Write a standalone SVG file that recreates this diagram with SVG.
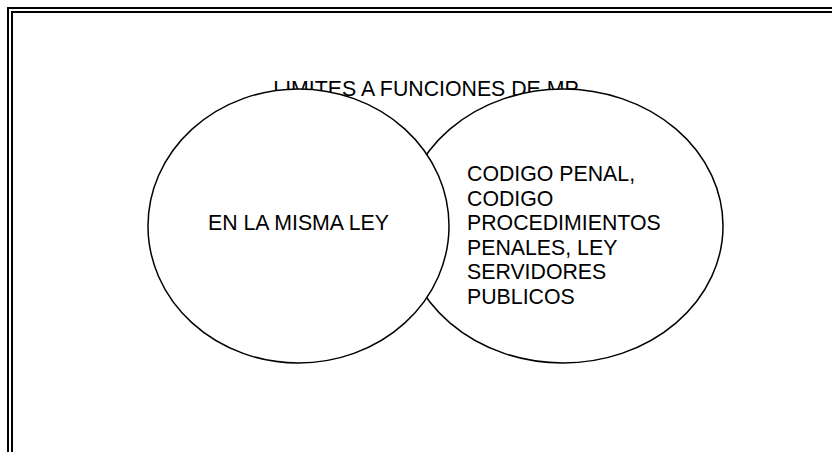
<svg xmlns="http://www.w3.org/2000/svg" width="832" height="452" viewBox="0 0 832 452">
<style>
.t{font-family:"Liberation Sans",Arial,sans-serif;font-size:21.3px;fill:#000}
.e{fill:#fff;stroke:#000;stroke-width:1.5}
.b{fill:none;stroke:#000;stroke-width:2}
</style>
<rect width="832" height="452" fill="#fff"/>
<g id="border">
<path class="b" d="M8 452V8H832"/>
<path class="b" d="M12 452V12H832"/>
</g>
<g id="title">
<text class="t" x="426" y="96" text-anchor="middle">LIMITES A FUNCIONES DE MP</text>
</g>
<g id="connectors"></g>
<g id="node-right">
<ellipse class="e" cx="563" cy="226" rx="160" ry="137"/>
<text class="t" x="467" y="181">CODIGO PENAL,</text>
<text class="t" x="467" y="205.5">CODIGO</text>
<text class="t" x="467" y="230">PROCEDIMIENTOS</text>
<text class="t" x="467" y="254.5">PENALES, LEY</text>
<text class="t" x="467" y="279">SERVIDORES</text>
<text class="t" x="467" y="303.5">PUBLICOS</text>
</g>
<g id="node-left">
<ellipse class="e" cx="298.5" cy="226" rx="150.5" ry="137"/>
<text class="t" x="298.5" y="230" text-anchor="middle">EN LA MISMA LEY</text>
</g>
</svg>
